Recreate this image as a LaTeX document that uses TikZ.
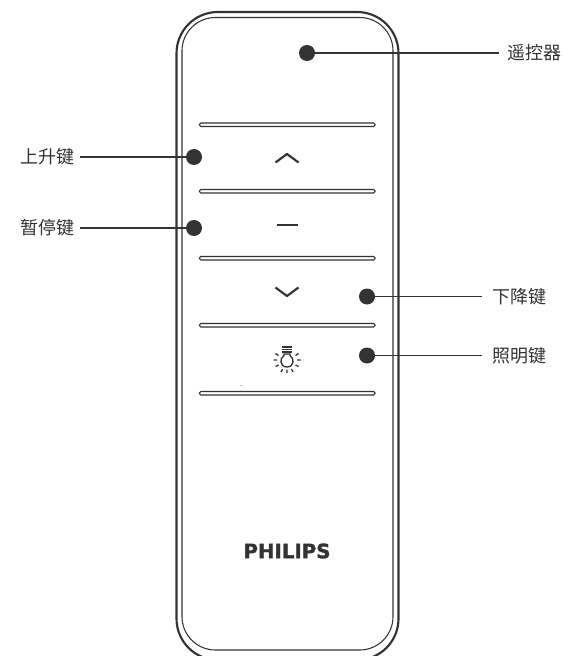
\documentclass[tikz,border=0pt]{standalone}
\usepackage{fontspec}
\newfontfamily\cjk{Noto Sans CJK SC}
\newfontfamily\brand[BoldFeatures={FakeBold=1.6}]{DejaVu Sans}
\definecolor{ink}{HTML}{333333}
\tikzset{
  px/.style={x=0.75pt,y=-0.75pt},
  dot/.style={circle,fill=ink,draw=none,minimum size=12pt,inner sep=0pt},
  callout/.style={font=\cjk\fontsize{13.5pt}{15pt}\selectfont,text=ink,inner sep=0pt},
  leader/.style={draw=ink,line width=1.15pt},
  pill/.style={draw=ink,line width=0.8pt,rounded corners=1.1pt},
  glyph/.style={draw=ink,line width=1.6pt},
  bulb/.style={draw=ink,line width=1pt}
}
\begin{document}
\begin{tikzpicture}[px]
\useasboundingbox (0,0) rectangle (562,656);
\begin{scope}
\clip (0,0) rectangle (562,656);
\draw[draw=ink,line width=1.6pt,rounded corners=31pt] (176.5,12) rectangle (398.5,660);
\end{scope}
\draw[draw=ink,line width=0.8pt,rounded corners=25pt] (182,17.5) rectangle (393,650);
\foreach \y in {123,189.5,256.5,323.5,391.5}
  \draw[pill] (199.5,\y) rectangle (375,\y+3.5);
% icons
\draw[glyph,line join=round] (275.5,162.5) -- (287,154) -- (298.5,162.5);
\draw[glyph] (277,225) -- (298,225);
\draw[glyph,line join=round] (275.5,287.5) -- (287,296) -- (298.5,287.5);
\draw[bulb] (282,347) -- (292,347) (282,349.5) -- (292,349.5) (282,352) -- (292,352);
\draw[bulb] (284,354) -- (290,354) -- (290,355.5) .. controls (295,358.5) and (294,367) .. (287,367) .. controls (280,367) and (279,358.5) .. (284,355.5) -- cycle;
\draw[bulb] (275.5,353.5) -- (278.5,355.5) (273.5,360) -- (277,360) (275.5,366.5) -- (278.5,365)
 (281,372) -- (282.5,369) (287,373) -- (287,369.5) (293,372) -- (291.5,369)
 (298.5,366.5) -- (295.5,365) (300.5,360) -- (297,360) (298.5,353.5) -- (295.5,355.5);
\fill[ink] (241,385.5) circle (0.5);
\node[font=\brand\bfseries\fontsize{14.8pt}{16pt}\selectfont,text=ink,inner sep=0pt] (brand) at (287,551) {PHILIPS};
% callouts
\node[dot] (d1) at (307,53) {};
\node[dot] (d2) at (194,157) {};
\node[dot] (d3) at (194,228) {};
\node[dot] (d4) at (367,296.5) {};
\node[dot] (d5) at (367,355.5) {};
\node[callout,anchor=west] (t1) at (507.5,53) {遥控器};
\node[callout,anchor=east] (t2) at (75,157) {上升键};
\node[callout,anchor=east] (t3) at (75,228) {暂停键};
\node[callout,anchor=west] (t4) at (492.5,296.5) {下降键};
\node[callout,anchor=west] (t5) at (492.5,355.5) {照明键};
\draw[leader] (d1) -- ([xshift=-8.5*0.75pt]t1.west);
\draw[leader] (t2.east) ++(5,0) -- (d2);
\draw[leader] (t3.east) ++(5,0) -- (d3);
\draw[leader] (d4) -- ([xshift=-10.5*0.75pt]t4.west);
\draw[leader] (d5) -- ([xshift=-10.5*0.75pt]t5.west);
\end{tikzpicture}
\end{document}
